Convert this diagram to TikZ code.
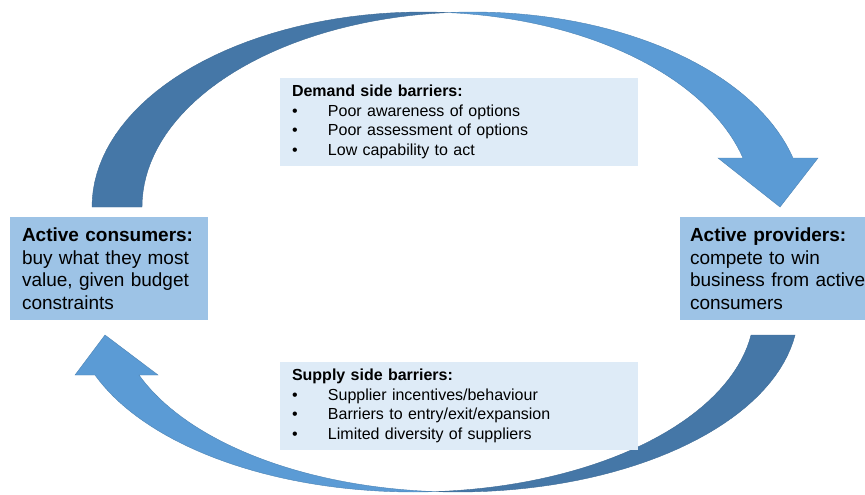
\documentclass[tikz,border=0pt]{standalone}
\usepackage{fontspec}
\setmainfont{Liberation Sans}
\definecolor{arrowdark}{RGB}{69,119,167}
\definecolor{arrowlight}{RGB}{91,155,213}
\definecolor{agentfill}{RGB}{157,195,230}
\definecolor{barrierfill}{RGB}{222,235,247}
\tikzset{
  agent/.style={fill=agentfill, minimum width=198pt, minimum height=103pt,
    inner xsep=12pt, text width=174pt, align=left,
    font=\fontsize{19}{22.5}\selectfont},
  barrier/.style={fill=barrierfill, minimum width=358pt, minimum height=88pt,
    inner xsep=12pt, text width=334pt, align=left,
    font=\fontsize{16}{19.5}\selectfont},
  backpart/.style={fill=arrowdark, draw=arrowdark!90!black, line width=0.4pt},
  frontpart/.style={fill=arrowlight, draw=arrowlight!85!black, line width=0.4pt},
}
\newcommand{\bul}{\makebox[36pt][l]{\textbullet}}
\begin{document}
\begin{tikzpicture}[x=1pt,y=-1pt]
\useasboundingbox (0,0) rectangle (865,495);

% upper arrow
\path[backpart] plot[domain=180:85.67,samples=40] ({422.8+330.8*cos(\x)},{207-195*sin(\x)})
  -- plot[domain=94.33:180,samples=40] ({472.8+330.8*cos(\x)},{207-195*sin(\x)}) -- cycle;
\path[frontpart] plot[domain=94.33:14.55,samples=40] ({472.8+330.8*cos(\x)},{207-195*sin(\x)})
  -- (818,158) -- (780,207) -- (718,158)
  -- plot[domain=14.55:85.67,samples=40] ({422.8+330.8*cos(\x)},{207-195*sin(\x)}) -- cycle;

% lower arrow
\path[backpart] plot[domain=93.7:7.9,samples=40] ({457.4+340.9*cos(\x)},{310+182*sin(\x)})
  -- plot[domain=7.9:86.3,samples=40] ({413.4+340.9*cos(\x)},{310+182*sin(\x)}) -- cycle;
\path[frontpart] plot[domain=86.3:159.07,samples=40] ({413.4+340.9*cos(\x)},{310+182*sin(\x)})
  -- (75,375) -- (105,335) -- (158,375)
  -- plot[domain=159.07:93.7,samples=40] ({457.4+340.9*cos(\x)},{310+182*sin(\x)}) -- cycle;

\node[agent] (consumers) at (109,268.5) {\textbf{Active consumers:}\\buy what they most\\value, given budget\\constraints};
\node[agent, text width=186pt, inner xsep=10pt] (providers) at (783,268.5) {\textbf{Active providers:}\\compete to win\\business from active\\consumers};

\node[barrier] (demand) at (459,122) {\textbf{Demand side barriers:}\\\bul Poor awareness of options\\\bul Poor assessment of options\\\bul Low capability to act};
\node[barrier] (supply) at (459,406) {\textbf{Supply side barriers:}\\\bul Supplier incentives/behaviour\\\bul Barriers to entry/exit/expansion\\\bul Limited diversity of suppliers};
\end{tikzpicture}
\end{document}
